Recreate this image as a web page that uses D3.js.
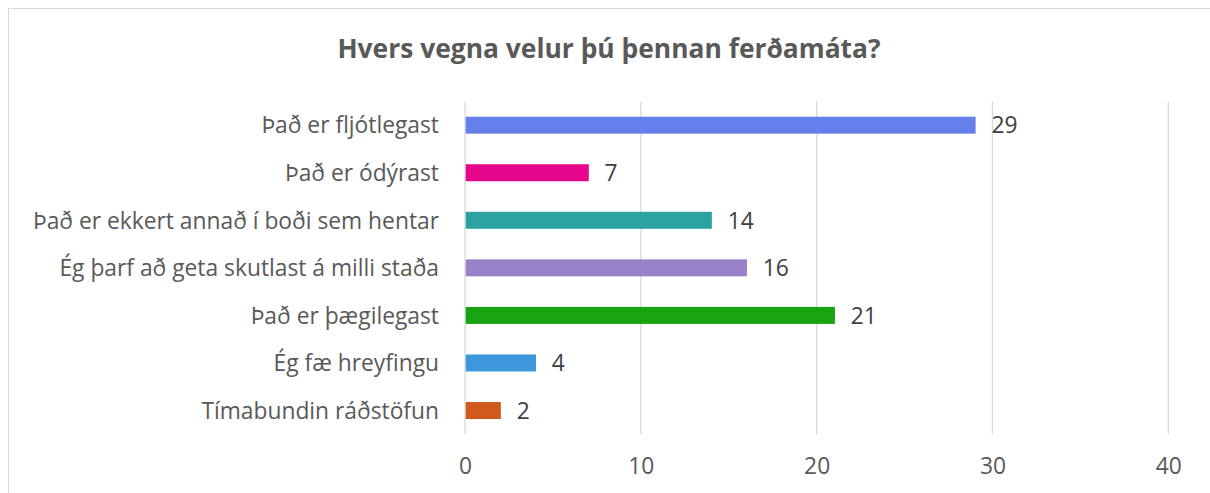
<!DOCTYPE html>
<html>
<head>
<meta charset="utf-8">
<script src="https://cdn.jsdelivr.net/npm/d3@7/dist/d3.min.js"></script>
<style>
  html, body { margin: 0; padding: 0; background: #fff; }
  svg { display: block; }
</style>
</head>
<body>
<svg id="chart" width="1210" height="493"></svg>
<script>
const title = "Hvers vegna velur þú þennan ferðamáta?";
const categories = [
  "Það er fljótlegast",
  "Það er ódýrast",
  "Það er ekkert annað í boði sem hentar",
  "Ég þarf að geta skutlast á milli staða",
  "Það er þægilegast",
  "Ég fæ hreyfingu",
  "Tímabundin ráðstöfun"
];
const values = [29, 7, 14, 16, 21, 4, 2];
const colors = ["#657FEB", "#E6068C", "#2CA3A3", "#9A82C9", "#18A312", "#3C97DD", "#D05A1E"];
const xTicks = [0, 10, 20, 30, 40];

const svg = d3.select("#chart");
const fontFam = "'Open Sans', sans-serif";
const fs = 22.8;

// chart border
svg.append("rect")
  .attr("x", 8.5).attr("y", 8.5)
  .attr("width", 1210).attr("height", 500)
  .attr("fill", "#fff").attr("stroke", "#d9d9d9").attr("stroke-width", 1);

const x = d3.scaleLinear().domain([0, 40]).range([465, 1168.3]);
const y = d3.scaleBand().domain(categories).range([101.4, 434.3]).paddingInner(0.643).paddingOuter(0.3215);

// gridlines
svg.append("g").selectAll("line").data(xTicks).join("line")
  .attr("x1", d => x(d)).attr("x2", d => x(d))
  .attr("y1", 101.4).attr("y2", 434.3)
  .attr("stroke", "#d9d9d9").attr("stroke-width", 1.3);

// bars
svg.append("g").selectAll("rect").data(values).join("rect")
  .attr("x", x(0) + 0.7)
  .attr("y", (d, i) => y(categories[i]))
  .attr("width", d => x(d) - x(0))
  .attr("height", y.bandwidth())
  .attr("fill", (d, i) => colors[i]);

// value labels
svg.append("g").selectAll("text").data(values).join("text")
  .attr("x", d => x(d) + 16.5)
  .attr("y", (d, i) => y(categories[i]) + y.bandwidth() / 2)
  .attr("dy", "0.36em")
  .attr("font-family", fontFam).attr("font-size", fs)
  .attr("fill", "#404040")
  .text(d => d);

// category labels
const yAxis = d3.axisLeft(y).tickSize(0).tickPadding(26);
const yg = svg.append("g").attr("transform", `translate(${x(0)},0)`).call(yAxis);
yg.select(".domain").remove();
yg.selectAll("text").attr("font-family", fontFam).attr("font-size", fs).attr("fill", "#595959").attr("dy", "0.36em");

// x axis
const xAxis = d3.axisBottom(x).tickValues(xTicks).tickSize(0).tickPadding(0);
const xg = svg.append("g").attr("transform", `translate(0,458)`).call(xAxis);
xg.select(".domain").remove();
xg.selectAll("text").attr("font-family", fontFam).attr("font-size", fs).attr("fill", "#595959").attr("dy", "0.71em");

// title
svg.append("text")
  .attr("x", 609).attr("y", 58)
  .attr("text-anchor", "middle")
  .attr("font-family", fontFam).attr("font-size", 26.4).attr("font-weight", "bold")
  .attr("fill", "#595959")
  .text(title);
</script>
</body>
</html>
